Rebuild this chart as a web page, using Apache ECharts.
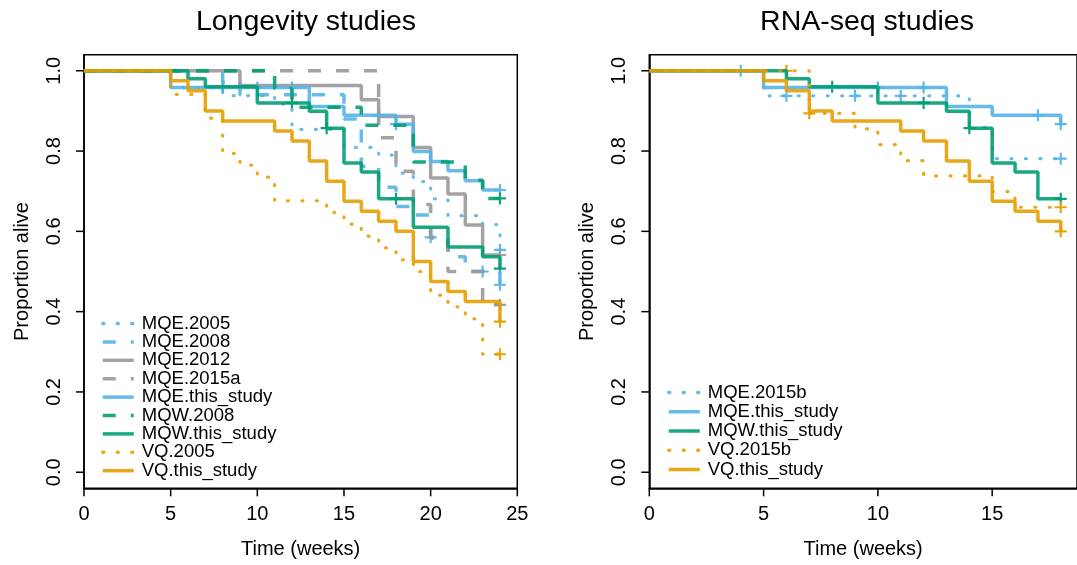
<!DOCTYPE html>
<html>
<head>
<meta charset="utf-8">
<script src="https://cdn.jsdelivr.net/npm/echarts@6/dist/echarts.min.js"></script>
<style>
  html, body { margin: 0; padding: 0; background: #fff; }
  #chart { width: 1077px; height: 565px; }
</style>
</head>
<body>
<div id="chart"></div>
<script>
// ---------------- DATA (time in weeks, proportion alive) ----------------
// Left panel: Longevity studies
const L_MQE2005      = [[0,1],[5,0.958],[8,0.938],[11,0.917],[12,0.854],[15,0.809],[17,0.79],[18,0.745],[19,0.724],[20,0.681],[21,0.639],[23,0.617],[24,0.554]];
const L_MQE2005_cens = [[24,0.554]];
const L_MQE2008      = [[0,1],[8,0.97],[9,0.94],[15,0.88],[16,0.762],[17,0.71],[18,0.662],[19,0.641],[20,0.585],[21,0.537],[22,0.5],[24,0.467]];
const L_MQE2008_cens = [[20,0.585],[23,0.5],[24,0.467]];
const L_MQE2012      = [[0,1],[9,0.963],[16,0.928],[17,0.886],[19,0.809],[20,0.733],[21,0.693],[22,0.616],[23,0.541],[24,0.541]];
const L_MQE2012_cens = [[24,0.541]];
const L_MQE2015a      = [[0,1],[17,0.833],[18,0.75],[19,0.667],[20,0.583],[21,0.5],[23,0.417],[24,0.417]];
const L_MQE2015a_cens = [[24,0.417]];
const L_MQEthis      = [[0,1],[5,0.958],[13,0.911],[15,0.889],[18,0.867],[19,0.799],[20,0.774],[21,0.751],[22,0.726],[23,0.703],[24,0.703]];
const L_MQEthis_cens = [[10,0.958],[12,0.958],[17,0.889],[18,0.867],[24,0.703]];
const L_MQW2008      = [[0,1],[11,0.955],[12,0.909],[16,0.864],[19,0.773],[22,0.727],[23,0.682],[24,0.682]];
const L_MQW2008_cens = [[24,0.682]];
const L_MQWthis      = [[0,1],[6,0.98],[7,0.96],[10,0.92],[13,0.899],[14,0.857],[15,0.77],[16,0.748],[17,0.681],[19,0.61],[21,0.561],[23,0.537],[24,0.507]];
const L_MQWthis_cens = [[8,0.96],[12,0.92],[14,0.857],[18,0.681],[24,0.507]];
const L_VQ2005      = [[0,1],[5,0.941],[7,0.882],[8,0.794],[9,0.765],[10,0.735],[11,0.676],[14,0.647],[15,0.618],[16,0.588],[17,0.559],[18,0.529],[19,0.5],[20,0.441],[21,0.412],[22,0.382],[23,0.294],[24,0.294]];
const L_VQ2005_cens = [[24,0.294]];
const L_VQthis      = [[0,1],[5,0.975],[6,0.95],[7,0.9],[8,0.875],[11,0.85],[12,0.825],[13,0.775],[14,0.725],[15,0.675],[16,0.65],[17,0.625],[18,0.6],[19,0.525],[20,0.475],[21,0.45],[22,0.425],[24,0.375]];
const L_VQthis_cens = [[24,0.375]];

// Right panel: RNA-seq studies
const R_MQE2015b      = [[0,1],[5,0.9375],[14,0.859],[15,0.781],[18,0.781]];
const R_MQE2015b_cens = [[4,1],[6,0.9375],[9,0.9375],[11,0.9375],[18,0.781]];
const R_MQEthis      = [[0,1],[5,0.958],[13,0.911],[15,0.889],[18,0.867]];
const R_MQEthis_cens = [[10,0.958],[12,0.958],[17,0.889],[18,0.867]];
const R_MQWthis      = [[0,1],[6,0.98],[7,0.96],[10,0.92],[13,0.899],[14,0.857],[15,0.77],[16,0.748],[17,0.681],[18,0.681]];
const R_MQWthis_cens = [[8,0.96],[12,0.92],[14,0.857],[18,0.681]];
const R_VQ2015b      = [[0,1],[7,0.894],[9,0.855],[10,0.816],[11,0.776],[12,0.738],[15,0.699],[16,0.66],[18,0.66]];
const R_VQ2015b_cens = [[6,1],[7,0.894],[18,0.66]];
const R_VQthis      = [[0,1],[5,0.975],[6,0.95],[7,0.9],[8,0.875],[11,0.85],[12,0.825],[13,0.775],[14,0.725],[15,0.675],[16,0.65],[17,0.625],[18,0.6]];
const R_VQthis_cens = [[18,0.6]];

const X_TICKS_LEFT  = [0, 5, 10, 15, 20, 25];
const X_TICKS_RIGHT = [0, 5, 10, 15];
const Y_TICKS = [0, 0.2, 0.4, 0.6, 0.8, 1.0];
const Y_MIN = -0.04, Y_MAX = 1.04;

const LEFT_LEGEND  = ['MQE.2005','MQE.2008','MQE.2012','MQE.2015a','MQE.this_study','MQW.2008','MQW.this_study','VQ.2005','VQ.this_study'];
const RIGHT_LEGEND = ['MQE.2015b','MQE.this_study','MQW.this_study','VQ.2015b','VQ.this_study'];

// ---------------- STYLE ----------------
const BLUE = '#56B4E9', GREEN = '#009E73', GREY = '#999999', ORANGE = '#E69F00';
const FONT = '"Liberation Sans", Arial, Helvetica, sans-serif';
const LW = 3.5;
const TICK_LEN = 8;
const STYLES = {
  solid:  { type: 'solid', width: LW, cap: 'butt' },
  dashed: { type: [13, 15], width: LW, cap: 'butt' },
  dotted: { type: [1, 13.5], width: 3.2, cap: 'round' }
};
const PLUS = 'path://M4.1,0H5.9V4.1H10V5.9H5.9V10H4.1V5.9H0V4.1H4.1Z';

function km(name, data, cens, color, style, gi) {
  const line = {
    name: name, type: 'line', step: 'end', xAxisIndex: gi, yAxisIndex: gi,
    data: data, symbol: 'none', showSymbol: false, silent: true,
    color: color,
    lineStyle: Object.assign({ color: color, opacity: 0.9 }, STYLES[style]),
    emphasis: { disabled: true }, animation: false
  };
  const pts = {
    name: name + ' censored', type: 'scatter', xAxisIndex: gi, yAxisIndex: gi,
    data: cens, symbol: PLUS, symbolSize: 12, silent: true,
    itemStyle: { color: color, opacity: 0.95 }, animation: false
  };
  return [line, pts];
}

const series = [].concat(
  km('MQE.2005', L_MQE2005, L_MQE2005_cens, BLUE, 'dotted', 0),
  km('MQE.2008', L_MQE2008, L_MQE2008_cens, BLUE, 'dashed', 0),
  km('MQE.2012', L_MQE2012, L_MQE2012_cens, GREY, 'solid', 0),
  km('MQE.2015a', L_MQE2015a, L_MQE2015a_cens, GREY, 'dashed', 0),
  km('MQE.this_study', L_MQEthis, L_MQEthis_cens, BLUE, 'solid', 0),
  km('MQW.2008', L_MQW2008, L_MQW2008_cens, GREEN, 'dashed', 0),
  km('MQW.this_study', L_MQWthis, L_MQWthis_cens, GREEN, 'solid', 0),
  km('VQ.2005', L_VQ2005, L_VQ2005_cens, ORANGE, 'dotted', 0),
  km('VQ.this_study', L_VQthis, L_VQthis_cens, ORANGE, 'solid', 0),
  km('MQE.2015b', R_MQE2015b, R_MQE2015b_cens, BLUE, 'dotted', 1),
  km('MQE.this_study', R_MQEthis, R_MQEthis_cens, BLUE, 'solid', 1),
  km('MQW.this_study', R_MQWthis, R_MQWthis_cens, GREEN, 'solid', 1),
  km('VQ.2015b', R_VQ2015b, R_VQ2015b_cens, ORANGE, 'dotted', 1),
  km('VQ.this_study', R_VQthis, R_VQthis_cens, ORANGE, 'solid', 1)
);

const AXIS_LINE = { show: true, onZero: false, lineStyle: { color: '#000', width: 1.5 } };
function xAxis(gi, max, ticks) {
  return {
    gridIndex: gi, type: 'value', min: 0, max: max, interval: 5, position: 'bottom',
    axisLine: AXIS_LINE,
    axisTick: { show: false },
    axisLabel: { customValues: ticks, fontSize: 20, color: '#000', fontFamily: FONT, margin: 16 },
    splitLine: { show: false },
    name: 'Time (weeks)', nameLocation: 'middle', nameGap: 51,
    nameTextStyle: { fontSize: 20, color: '#000', fontFamily: FONT }
  };
}
function yAxis(gi) {
  return {
    gridIndex: gi, type: 'value', min: Y_MIN, max: Y_MAX, position: 'left',
    axisLine: AXIS_LINE,
    axisTick: { show: false },
    axisLabel: { customValues: Y_TICKS, rotate: 90, fontSize: 20, color: '#000', fontFamily: FONT, margin: 20,
                 formatter: v => v.toFixed(1) },
    splitLine: { show: false },
    name: 'Proportion alive', nameLocation: 'middle', nameGap: 52, nameRotate: 90,
    nameTextStyle: { fontSize: 20, color: '#000', fontFamily: FONT }
  };
}
function legend(left, top, names, gap) {
  return {
    left: left, top: top, orient: 'vertical', data: names,
    itemWidth: 31, itemHeight: 14, itemGap: gap, selectedMode: false,
    itemStyle: { opacity: 0 },
    lineStyle: { width: 3.5 },
    textStyle: { fontSize: 18.5, color: '#000', fontFamily: FONT, padding: [0, 0, 0, 3] },
    inactiveColor: '#000'
  };
}

const TITLES = [
  { type: 'text', x: 306, y: 8, style: { text: 'Longevity studies', fontSize: 28.5, fontFamily: FONT, fill: '#000', textAlign: 'center' } },
  { type: 'text', x: 867, y: 8, style: { text: 'RNA-seq studies', fontSize: 28.5, fontFamily: FONT, fill: '#000', textAlign: 'center' } }
];

const chart = echarts.init(document.getElementById('chart'), null, { renderer: 'canvas' });
chart.setOption({
  animation: false,
  backgroundColor: '#fff',
  grid: [
    { left: 84, top: 54.7, width: 433.3, height: 433.6, show: true, borderColor: '#000', borderWidth: 1.5, backgroundColor: 'transparent' },
    { left: 649.3, top: 54.7, width: 433.3, height: 433.6, show: true, borderColor: '#000', borderWidth: 1.5, backgroundColor: 'transparent' }
  ],
  xAxis: [ xAxis(0, 25, X_TICKS_LEFT), xAxis(1, 18.71, X_TICKS_RIGHT) ],
  yAxis: [ yAxis(0), yAxis(1) ],
  legend: [ legend(96, 309, LEFT_LEGEND, -0.6), legend(662, 378, RIGHT_LEGEND, 0.25) ],
  graphic: TITLES,
  series: series
});

// Outward R-style tick marks, positioned through the axes' own scales
const tickEls = [];
[[0, X_TICKS_LEFT], [1, X_TICKS_RIGHT]].forEach(function (pair) {
  const gi = pair[0];
  pair[1].forEach(function (v) {
    const p = chart.convertToPixel({ gridIndex: gi }, [v, Y_MIN]);
    tickEls.push({ type: 'line', z: 100, silent: true,
      shape: { x1: p[0], y1: p[1], x2: p[0], y2: p[1] + TICK_LEN },
      style: { stroke: '#000', lineWidth: 1.5 } });
  });
  Y_TICKS.forEach(function (v) {
    const p = chart.convertToPixel({ gridIndex: gi }, [0, v]);
    tickEls.push({ type: 'line', z: 100, silent: true,
      shape: { x1: p[0] - TICK_LEN, y1: p[1], x2: p[0], y2: p[1] },
      style: { stroke: '#000', lineWidth: 1.5 } });
  });
});
chart.setOption({ graphic: TITLES.concat(tickEls) });
</script>
</body>
</html>
